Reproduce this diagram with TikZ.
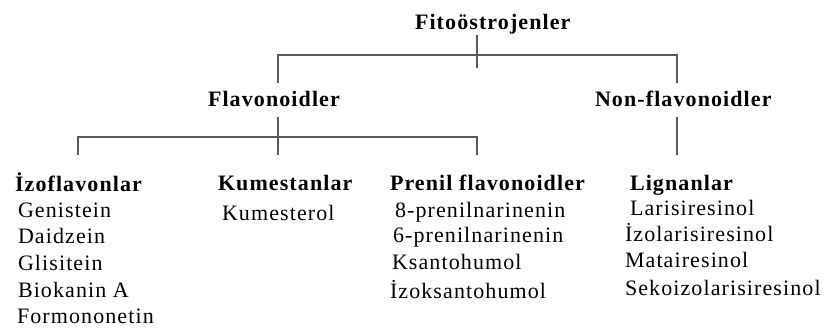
\documentclass[tikz,border=0pt]{standalone}
\usepackage{fontspec}
\setmainfont[LetterSpace=5]{Liberation Serif}
\begin{document}
\begin{tikzpicture}[x=1pt,y=-1pt,
  every node/.style={inner sep=0pt,outer sep=0pt,anchor=base west,font=\fontsize{22}{26}\selectfont},
  head/.style={font=\fontsize{22}{26}\selectfont\bfseries},
  conn/.style={draw=black!65,line width=1.3pt}]
\useasboundingbox (0,0) rectangle (825,334);
% top level
\node[head] (fito) at (415,30) {Fitoöstrojenler};
\node[head] (flav) at (208,107) {Flavonoidler};
\node[head] (nonflav) at (595,107) {Non-flavonoidler};
% categories
\node[head] (izo) at (15,192) {İzoflavonlar};
\node[head] (kum) at (218,190) {Kumestanlar};
\node[head] (pren) at (390,190) {Prenil flavonoidler};
\node[head] (lig) at (630,190) {Lignanlar};
% items
\node (i1) at (18,218) {Genistein};
\node (i2) at (18,243) {Daidzein};
\node (i3) at (18,270) {Glisitein};
\node (i4) at (18,297) {Biokanin A};
\node (i5) at (17,323) {Formononetin};
\node (k1) at (222,220) {Kumesterol};
\node (p1) at (395,218) {8-prenilnarinenin};
\node (p2) at (393,242) {6-prenilnarinenin};
\node (p3) at (392,269) {Ksantohumol};
\node (p4) at (390,298) {İzoksantohumol};
\node (l1) at (630,215) {Larisiresinol};
\node (l2) at (625,241) {İzolarisiresinol};
\node (l3) at (625,267) {Matairesinol};
\node (l4) at (625,295) {Sekoizolarisiresinol};
% junctions
\coordinate (fj) at (477,55);
\coordinate (fs) at (477,35);
\coordinate (fe) at (477,68);
\coordinate (flt) at (278,83);
\coordinate (nft) at (677,83);
\coordinate (flj) at (278,137);
\coordinate (fls) at (278,117);
\coordinate (fle) at (278,155);
\coordinate (izt) at (78,155);
\coordinate (prt) at (477,155);
\coordinate (nfs) at (677,117);
\coordinate (nfe) at (677,155);
% connectors
\draw[conn] (fs) -- (fe);
\draw[conn] (flt) |- (fj) -| (nft);
\draw[conn] (fls) -- (fle);
\draw[conn] (izt) |- (flj) -| (prt);
\draw[conn] (nfs) -- (nfe);
\end{tikzpicture}
\end{document}
